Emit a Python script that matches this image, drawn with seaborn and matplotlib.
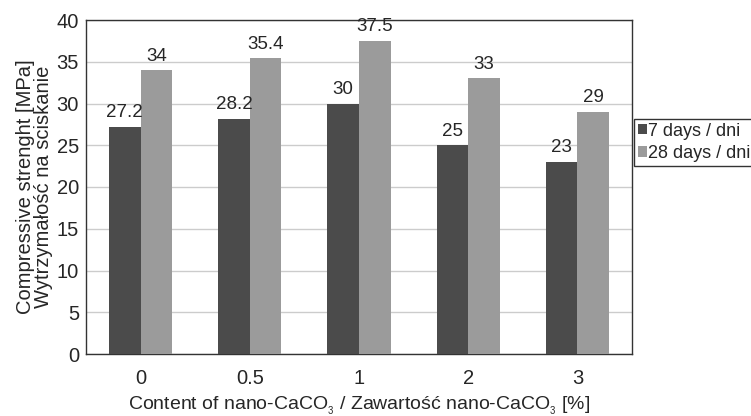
import matplotlib
matplotlib.use('Agg')
import matplotlib.pyplot as plt
import seaborn as sns
import pandas as pd

# Data
contents = ['0', '0.5', '1', '2', '3']
days_7 = [27.2, 28.2, 30, 25, 23]
days_28 = [34, 35.4, 37.5, 33, 29]
series_names = ['7 days / dni', '28 days / dni']

df = pd.DataFrame({
    'content': contents * 2,
    'strength': days_7 + days_28,
    'series': [series_names[0]] * len(contents) + [series_names[1]] * len(contents)
})

sns.set_style('white')
plt.rcParams['font.family'] = ['Liberation Sans', 'DejaVu Sans']
plt.rcParams['mathtext.fontset'] = 'custom'
plt.rcParams['mathtext.rm'] = 'Liberation Sans'
plt.rcParams['mathtext.it'] = 'Liberation Sans'

fig, ax = plt.subplots(figsize=(7.51, 4.16), dpi=100)
fig.subplots_adjust(left=86/751, right=632/751, top=1-20/416, bottom=1-354/416)

sns.barplot(
    data=df,
    x='content',
    y='strength',
    hue='series',
    palette=['#4b4b4b', '#9b9b9b'],
    width=0.58,
    saturation=1,
    linewidth=0,
    ax=ax,
    zorder=3
)

for container in ax.containers:
    ax.bar_label(container, fmt='%g', padding=4, fontsize=13.5)

ax.set_ylim(0, 40)
ax.set_yticks(range(0, 41, 5))
ax.yaxis.grid(True, color='#cccccc', linewidth=1, zorder=0)
ax.tick_params(axis='both', length=0, labelsize=14.5, pad=5)
ax.tick_params(axis='x', pad=11)

for side in ['left', 'bottom', 'top', 'right']:
    ax.spines[side].set_color('#333333')
    ax.spines[side].set_linewidth(1)

ax.set_ylabel('Compressive strenght [MPa]\nWytrzymałość na sciskanie', fontsize=14.5, linespacing=0.9, labelpad=3)
ax.set_xlabel('Content of nano-CaCO$_{_3}$ / Zawartość nano-CaCO$_{_3}$ [%]', fontsize=14, labelpad=5)

ax.legend(
    loc='upper left',
    bbox_to_anchor=(634/751, 1-119/416),
    bbox_transform=fig.transFigure,
    fontsize=13,
    frameon=True,
    fancybox=False,
    edgecolor='black',
    handlelength=0.5,
    handleheight=0.5,
    handletextpad=0.1,
    borderpad=0.2,
    borderaxespad=0,
    labelspacing=0.3
)
ax.get_legend().get_frame().set_linewidth(1)

plt.savefig('out.png', dpi=100)
